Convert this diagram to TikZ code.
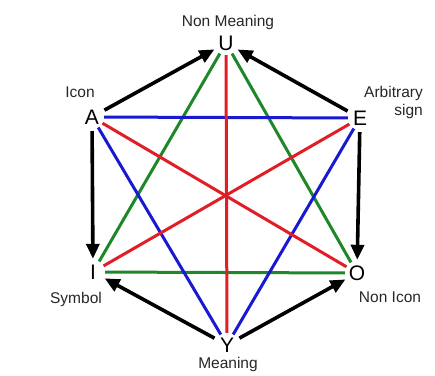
\documentclass[tikz,border=0pt]{standalone}
\usepackage{fontspec}
\setmainfont{Liberation Sans}
\usetikzlibrary{arrows.meta}
\definecolor{lgreen}{RGB}{30,135,40}
\definecolor{lblue}{RGB}{25,25,210}
\definecolor{lred}{RGB}{225,30,40}
\tikzset{
  vtx/.style={circle,inner sep=0pt,minimum size=24pt,font=\fontsize{21}{21}\selectfont},
  lbl/.style={inner sep=0pt,font=\fontsize{15.5}{18}\selectfont,text=black!85},
  gline/.style={lgreen,line width=3pt},
  bline/.style={lblue,line width=3pt},
  rline/.style={lred,line width=3pt},
  karrow/.style={black,line width=3.6pt,-{Triangle[length=15pt,width=13pt]},shorten >=1pt,shorten <=2pt}
}
\begin{document}
\begin{tikzpicture}[x=1pt,y=-1pt]
\useasboundingbox (0,0) rectangle (435,375);
\node[vtx] (U) at (226,43) {U};
\node[vtx] (A) at (92,117) {A};
\node[vtx] (E) at (360,118) {E};
\node[vtx] (I) at (93,272) {I};
\node[vtx] (O) at (357,273) {O};
\node[vtx] (Y) at (227,345) {Y};
\node[lbl] (lU) at (228,22) {Non Meaning};
\node[lbl] (lA) at (80,92) {Icon};
\node[lbl,align=right,anchor=east] (lE) at (423,102) {Arbitrary\\sign};
\node[lbl] (lI) at (76,299) {Symbol};
\node[lbl] (lO) at (390,297) {Non Icon};
\node[lbl] (lY) at (228,364) {Meaning};
% green triangle
\draw[gline] (U) -- (I);
\draw[gline] (U) -- (O);
\draw[gline] (I) -- (O);
% blue triangle
\draw[bline] (A) -- (E);
\draw[bline] (A) -- (Y);
\draw[bline] (E) -- (Y);
% red diagonals
\draw[rline] (U) -- (Y);
\draw[rline] (A) -- (O);
\draw[rline] (E) -- (I);
% black arrows
\draw[karrow] (A) -- (U);
\draw[karrow] (E) -- (U);
\draw[karrow] (A) -- (I);
\draw[karrow] (E) -- (O);
\draw[karrow] (Y) -- (I);
\draw[karrow] (Y) -- (O);
\end{tikzpicture}
\end{document}
